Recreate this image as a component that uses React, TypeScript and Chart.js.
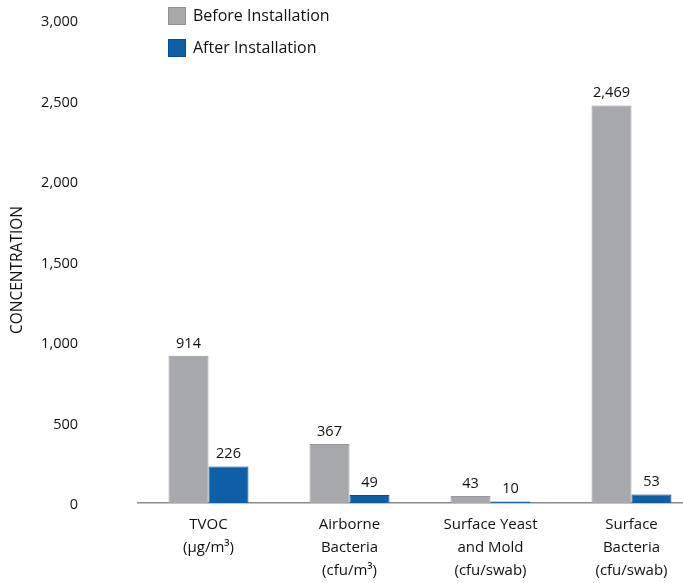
import React, { useEffect, useRef } from "react";
import { Chart, registerables } from "chart.js";

Chart.register(...registerables);

const categories: string[][] = [
  ["TVOC", "(µg/m³)"],
  ["Airborne", "Bacteria", "(cfu/m³)"],
  ["Surface Yeast", "and Mold", "(cfu/swab)"],
  ["Surface", "Bacteria", "(cfu/swab)"],
];
const beforeValues = [914, 367, 43, 2469];
const afterValues = [226, 49, 10, 53];
const seriesNames = ["Before Installation", "After Installation"];
const yTicks = [0, 500, 1000, 1500, 2000, 2500, 3000];
const yTitle = "CONCENTRATION";

const GRAY = "#a7a8ab";
const BLUE = "#0f5fa8";
const FONT = "'Open Sans', 'Noto Sans', sans-serif";
const TEXT = "#111111";

const labelPlugin = {
  id: "valueLabels",
  afterDatasetsDraw(chart: any) {
    const ctx = chart.ctx;
    ctx.save();
    ctx.font = `14.5px ${FONT}`;
    ctx.fillStyle = TEXT;
    ctx.textAlign = "center";
    ctx.textBaseline = "bottom";
    chart.data.datasets.forEach((ds: any, di: number) => {
      const meta = chart.getDatasetMeta(di);
      meta.data.forEach((bar: any, i: number) => {
        const v = ds.data[i] as number;
        ctx.fillText(v.toLocaleString("en-US"), bar.x, bar.y - 5);
      });
    });
    ctx.restore();
  },
};

const legendPlugin = {
  id: "customLegend",
  afterDraw(chart: any) {
    const ctx = chart.ctx;
    ctx.save();
    const colors = [GRAY, BLUE];
    const borders = ["#8e8f92", "#0a4d8c"];
    const ys = [7, 39];
    seriesNames.forEach((name, i) => {
      ctx.fillStyle = colors[i];
      ctx.fillRect(168, ys[i], 18, 18);
      ctx.strokeStyle = borders[i];
      ctx.lineWidth = 1;
      ctx.strokeRect(168.5, ys[i] + 0.5, 17, 17);
      ctx.fillStyle = TEXT;
      ctx.font = `16px ${FONT}`;
      ctx.textAlign = "left";
      ctx.textBaseline = "middle";
      ctx.fillText(name, 193, ys[i] + 9);
    });
    // y axis title
    ctx.translate(18, 270);
    ctx.rotate(-Math.PI / 2);
    ctx.font = `15.5px ${FONT}`;
    ctx.textAlign = "center";
    ctx.textBaseline = "middle";
    ctx.fillText(yTitle, 0, 0);
    ctx.restore();
  },
};

export default function App() {
  const ref = useRef<HTMLCanvasElement | null>(null);
  useEffect(() => {
    if (!ref.current) return;
    const chart = new Chart(ref.current, {
      type: "bar",
      data: {
        labels: categories,
        datasets: [
          { label: seriesNames[0], data: beforeValues, backgroundColor: GRAY, borderColor: "#97989b", borderWidth: 1, barPercentage: 1, categoryPercentage: 0.567 },
          { label: seriesNames[1], data: afterValues, backgroundColor: BLUE, borderColor: "#0a4d8c", borderWidth: 1, barPercentage: 1, categoryPercentage: 0.567 },
        ],
      },
      options: {
        responsive: false,
        animation: false,
        layout: { padding: { top: 20, right: 3, left: 0, bottom: 0 } },
        plugins: { legend: { display: false }, tooltip: { enabled: false } },
        scales: {
          x: {
            grid: { display: false, drawTicks: false },
            border: { display: true, color: "#8a8a8a", width: 1.5 },
            ticks: {
              color: TEXT,
              font: { family: FONT, size: 15, lineHeight: "23px" },
              padding: 10,
              maxRotation: 0,
              autoSkip: false,
            },
            afterFit: (s: any) => {
              s.height = 80;
              s.paddingLeft = 0;
              s.paddingRight = 0;
            },
          },
          y: {
            min: 0,
            max: 3000,
            grid: { display: false, drawTicks: false },
            border: { display: false },
            afterBuildTicks: (s: any) => { s.ticks = yTicks.map((v) => ({ value: v })); },
            ticks: {
              color: TEXT,
              font: { family: FONT, size: 14.5 },
              padding: 60,
              labelOffset: 2,
              callback: (v: any) => Number(v).toLocaleString("en-US"),
            },
            afterFit: (s: any) => {
              s.width = 138;
              s.paddingTop = 0;
              s.paddingBottom = 0;
            },
          },
        },
      },
      plugins: [labelPlugin, legendPlugin],
    });
    return () => chart.destroy();
  }, []);
  return (
    <div style={{ position: "fixed", left: 0, top: 0, width: 683, height: 583, overflow: "hidden", background: "#fff" }}>
      <canvas ref={ref} width={705} height={583} style={{ display: "block", width: 705, height: 583 }} />
    </div>
  );
}
